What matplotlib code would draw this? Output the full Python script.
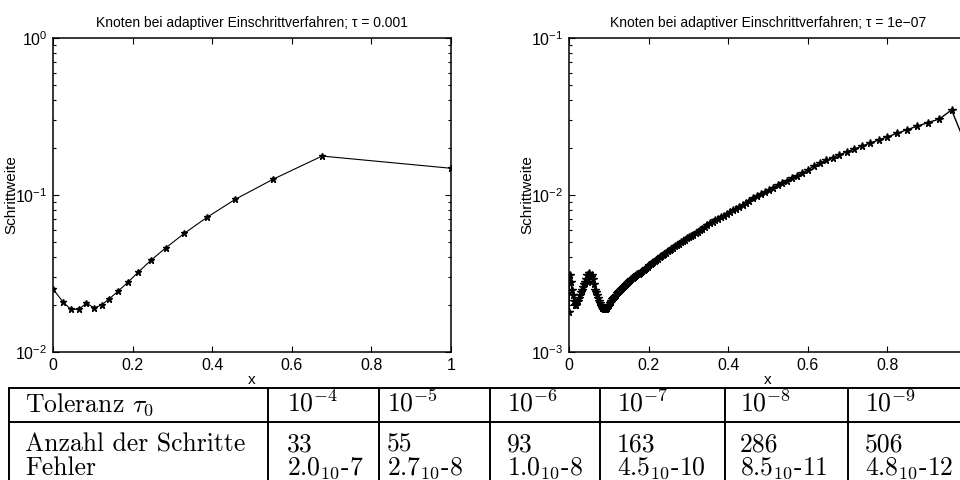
import matplotlib
matplotlib.use("Agg")
import matplotlib.pyplot as plt
import numpy as np
from matplotlib.ticker import LogLocator, NullFormatter, FixedFormatter

plt.rcParams["font.family"] = ["Liberation Sans", "DejaVu Sans"]
plt.rcParams["mathtext.fontset"] = "custom"
plt.rcParams["mathtext.rm"] = "Liberation Sans"
plt.rcParams["mathtext.it"] = "Liberation Sans:italic"
plt.rcParams["mathtext.bf"] = "Liberation Sans:bold"

# left plot, tau = 0.001: nodes and step sizes
x_left = [0.0, 0.026, 0.045, 0.065, 0.084, 0.103, 0.122, 0.141, 0.163, 0.188,
          0.214, 0.246, 0.284, 0.330, 0.387, 0.458, 0.553, 0.676, 1.0]
h_left = [0.0252, 0.0207, 0.0187, 0.0187, 0.0205, 0.0191, 0.0199, 0.0218, 0.0243, 0.0278,
          0.0322, 0.0384, 0.0462, 0.0570, 0.0721, 0.0939, 0.126, 0.177, 0.148]

# right plot, tau = 1e-07: step sizes (node x = running sum)
h_right = [
    0.0018, 0.0031, 0.0028, 0.0025, 0.0023, 0.0021, 0.0020, 0.0020, 0.0020, 0.0021,
    0.0021, 0.0022, 0.0023, 0.0024, 0.0025, 0.0026, 0.0027, 0.0028, 0.0029, 0.0031,
    0.0028, 0.0032, 0.0030, 0.0031, 0.0029, 0.0027, 0.0025, 0.0024, 0.0023, 0.0022,
    0.0021, 0.00205, 0.0020, 0.00195, 0.0019, 0.0019, 0.00188, 0.00187, 0.00187, 0.00188,
    0.0019, 0.00193,
    0.00196, 0.0020, 0.00204, 0.00208, 0.00212, 0.00216, 0.0022, 0.00224, 0.00228, 0.00232,
    0.00236, 0.0024, 0.00244, 0.00248, 0.00252, 0.00256, 0.0026, 0.00264, 0.00268, 0.00272,
    0.00276, 0.0028, 0.00284, 0.00288, 0.00292, 0.00296, 0.0030, 0.00304, 0.00308, 0.00312,
    0.00316, 0.0032, 0.00325, 0.0033, 0.00335, 0.0034, 0.00345, 0.0035, 0.00356, 0.00362,
    0.00368, 0.00374, 0.0038, 0.00387, 0.00394, 0.00401, 0.00408, 0.00415, 0.00422, 0.0043,
    0.00438, 0.00446, 0.00454,
    0.0046, 0.0047, 0.0048, 0.0049, 0.0050, 0.0051, 0.0052, 0.0053, 0.0054, 0.0055,
    0.0056, 0.0057, 0.0058, 0.0060, 0.0061, 0.0063, 0.0064, 0.0066, 0.0067, 0.0069,
    0.0070, 0.0072, 0.0074, 0.0076, 0.0078, 0.0080, 0.0082,
    0.0084, 0.0086, 0.0089, 0.0092, 0.0095, 0.0098, 0.0101, 0.0104, 0.0108, 0.0111,
    0.0115, 0.0119, 0.0123, 0.0128, 0.0133, 0.0138, 0.0144,
    0.0153, 0.0159, 0.0166, 0.0173, 0.0180, 0.0188, 0.0196, 0.0205, 0.0214, 0.0224,
    0.0235, 0.0247, 0.0260, 0.0274, 0.0289, 0.0305, 0.0348,
]
x_end, h_end = 1.0, 0.020

x_right = np.append(np.concatenate([[0.0], np.cumsum(h_right[:-1])]), x_end)
h_right_all = np.append(h_right, h_end)

x_ticks = [0, 0.2, 0.4, 0.6, 0.8, 1]
x_ticklabels = ["0", "0.2", "0.4", "0.6", "0.8", "1"]

# table below the plots
row_labels = ["Toleranz $\\tau_0$", "Anzahl der Schritte", "Fehler"]
tol_exp = [-4, -5, -6, -7, -8, -9]
n_steps = [33, 55, 93, 163, 286, 506]
err_mant = ["2.0", "2.7", "1.0", "4.5", "8.5", "4.8"]
err_exp = [-7, -8, -8, -10, -11, -12]

W, H = 960, 480
fig = plt.figure(figsize=(9.6, 4.8), dpi=100, facecolor="white")


def style_ax(ax, ylo, yhi, title, xlabels):
    ax.set_yscale("log")
    ax.set_xlim(0, 1)
    ax.set_ylim(ylo, yhi)
    ax.set_xticks(x_ticks)
    ax.xaxis.set_major_formatter(FixedFormatter(xlabels))
    ax.yaxis.set_major_locator(LogLocator(base=10, numticks=10))
    ax.yaxis.set_minor_locator(LogLocator(base=10, subs=np.arange(2, 10), numticks=20))
    ax.yaxis.set_minor_formatter(NullFormatter())
    ax.tick_params(which="both", direction="in", top=True, right=True,
                   labelsize=11.5, width=0.8, colors="black")
    ax.tick_params(which="major", length=4, pad=4)
    ax.tick_params(which="minor", length=2.5)
    for sp in ax.spines.values():
        sp.set_linewidth(1.1)
    ax.set_title(title, fontsize=10, pad=8)
    ax.set_xlabel("x", fontsize=11, labelpad=0)
    ax.set_ylabel("Schrittweite", fontsize=11, labelpad=-2)


ax1 = fig.add_axes([53 / W, 1 - 352 / H, 398 / W, 314 / H])
ax1.plot(x_left, h_left, color="black", linewidth=0.8, marker="*", markersize=5)
style_ax(ax1, 1e-2, 1e0, "Knoten bei adaptiver Einschrittverfahren; \u03c4 = 0.001",
         x_ticklabels)

# the "1" label of the right plot lies outside the picture
ax2 = fig.add_axes([569 / W, 1 - 352 / H, 398 / W, 314 / H])
ax2.plot(x_right, h_right_all, color="black", linewidth=1.0, marker="*", markersize=5.5)
style_ax(ax2, 1e-3, 1e-1, "Knoten bei adaptiver Einschrittverfahren; \u03c4 = 1e\u221207",
         x_ticklabels[:-1] + [""])

# TABLE, drawn in pixel coordinates on an overlay axes
tab = fig.add_axes([0, 0, 1, 1])
tab.set_xlim(0, W)
tab.set_ylim(H, 0)
tab.axis("off")

col_lines = [9, 268, 379, 490, 600, 725, 848, 975]
text_x = [25, 287, 387, 507, 617, 740, 865]
row_top, row_mid, row_bot = 388, 422, 500
baselines = [412, 452, 475]

for y in [row_top, row_mid]:
    tab.plot([col_lines[0], col_lines[-1]], [y, y], color="black", linewidth=1.4,
             solid_capstyle="projecting")
for x in col_lines:
    tab.plot([x, x], [row_top, row_bot], color="black", linewidth=1.4)

tfont = dict(fontsize=18.5, family=["cmr10", "DejaVu Serif"], math_fontfamily="cm",
             va="baseline", ha="left", color="black")
for lab, yb in zip(row_labels, baselines):
    tab.text(text_x[0], yb, lab, **tfont)
for i in range(len(tol_exp)):
    tab.text(text_x[i + 1], baselines[0], "$10^{%d}$" % tol_exp[i], **tfont)
    tab.text(text_x[i + 1], baselines[1], str(n_steps[i]), **tfont)
    tab.text(text_x[i + 1], baselines[2], "$%s_{10}$-%d" % (err_mant[i], -err_exp[i]), **tfont)

plt.savefig("out.png", dpi=100, facecolor=fig.get_facecolor())
